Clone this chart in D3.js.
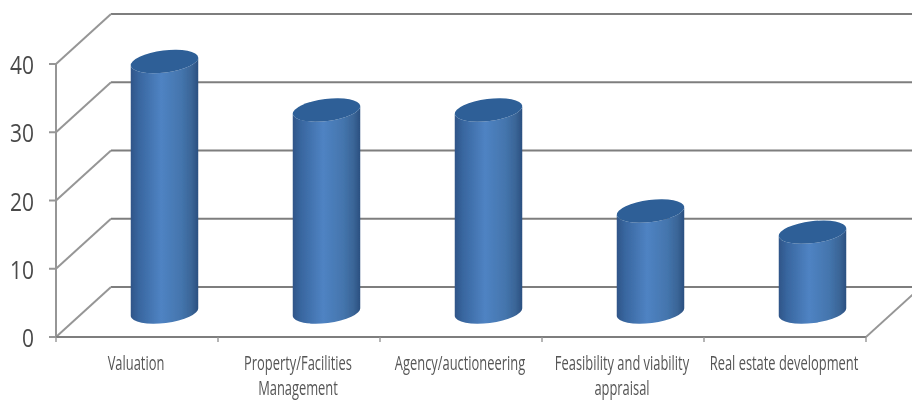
<!DOCTYPE html>
<html><head><meta charset="utf-8">
<script src="https://cdn.jsdelivr.net/npm/d3@7/dist/d3.min.js"></script>
<style>html,body{margin:0;padding:0;background:#fff;overflow:hidden}svg{display:block}</style>
</head><body><svg id="c" width="912" height="400"></svg>
<script>
const categories = [["Valuation"],["Property/Facilities","Management"],["Agency/auctioneering"],["Feasibility and viability","appraisal"],["Real estate development"]];
const values = [36.7, 29.6, 29.6, 14.8, 11.7];
const yTicks = [0, 10, 20, 30, 40];

const svg = d3.select("#c");
const W = 912;
const depthX = 55, depthY = 50;
const x = d3.scaleBand().domain(d3.range(categories.length)).range([56, 866]);
const y = d3.scaleLinear().domain([0, 40]).range([337, 64]);

const defs = svg.append("defs");
defs.append("filter").attr("id","soft").append("feGaussianBlur").attr("stdDeviation",0.6);
const g = defs.append("linearGradient").attr("id","cyl").attr("x1",0).attr("x2",1).attr("y1",0).attr("y2",0);
[[0,"#2f5588"],[0.12,"#38669f"],[0.45,"#4f83c3"],[0.75,"#4475ad"],[0.9,"#3a6597"],[1,"#2b4f80"]].forEach(s=>g.append("stop").attr("offset",s[0]).attr("stop-color",s[1]));

const root = svg.append("g").attr("filter","url(#soft)");
const wall = "#7e7e7e", axisC = "#969696";

yTicks.forEach(t=>{
  root.append("line").attr("x1",x.range()[0]+depthX).attr("x2",W).attr("y1",y(t)-depthY).attr("y2",y(t)-depthY).attr("stroke",wall).attr("stroke-width",2);
  root.append("line").attr("x1",x.range()[0]).attr("x2",x.range()[0]+depthX).attr("y1",y(t)).attr("y2",y(t)-depthY).attr("stroke",axisC).attr("stroke-width",2);
});
root.append("line").attr("x1",866).attr("y1",y(0)).attr("x2",866+depthX).attr("y2",y(0)-depthY).attr("stroke",axisC).attr("stroke-width",1.8);

root.append("line").attr("x1",56).attr("x2",56).attr("y1",y(40)).attr("y2",y(0)).attr("stroke",axisC).attr("stroke-width",2);
root.append("line").attr("x1",50).attr("x2",866).attr("y1",y(0)).attr("y2",y(0)).attr("stroke",wall).attr("stroke-width",2);
yTicks.forEach(t=>{
  root.append("line").attr("x1",49).attr("x2",56).attr("y1",y(t)).attr("y2",y(t)).attr("stroke",axisC).attr("stroke-width",2);
  root.append("text").attr("text-anchor","end")
    .attr("transform",`translate(34,${y(t)+10}) scale(0.84,1)`)
    .attr("font-family","'Open Sans'").attr("font-size",25).attr("fill","#4a4a4a").text(t);
});
d3.range(categories.length+1).forEach(i=>{
  const px = 56 + i*x.step();
  root.append("line").attr("x1",px).attr("x2",px).attr("y1",y(0)).attr("y2",y(0)+5).attr("stroke",axisC).attr("stroke-width",1.4);
});

const rx = 34, ry = 11, rot = -7;
const cos = Math.cos(rot*Math.PI/180), sin = Math.sin(rot*Math.PI/180);
values.forEach((v,i)=>{
  const cx = x(i)+x.bandwidth()/2+depthX/2;
  const top = y(v)-depthY/2, bot = y(0)-depthY/2;
  const dx = rx*cos, dy = rx*sin;
  const body = `M${cx-dx},${top-dy}L${cx-dx},${bot-dy}A${rx},${ry} ${rot} 0 0 ${cx+dx},${bot+dy}L${cx+dx},${top+dy}A${rx},${ry} ${rot} 0 1 ${cx-dx},${top-dy}Z`;
  root.append("path").attr("d",body).attr("fill","url(#cyl)");
  root.append("ellipse").attr("rx",rx).attr("ry",ry)
    .attr("transform",`translate(${cx},${top}) rotate(${rot})`).attr("fill","#2d5f97");
});

categories.forEach((lines,i)=>{
  const cx = x(i)+x.bandwidth()/2-1;
  lines.forEach((s,j)=>{
    root.append("text").attr("text-anchor","middle")
      .attr("transform",`translate(${cx},${370+j*25}) scale(0.86,1.3)`)
      .attr("font-family","'Open Sans'").attr("font-size",15).attr("fill","#555").text(s);
  });
});
</script></body></html>
